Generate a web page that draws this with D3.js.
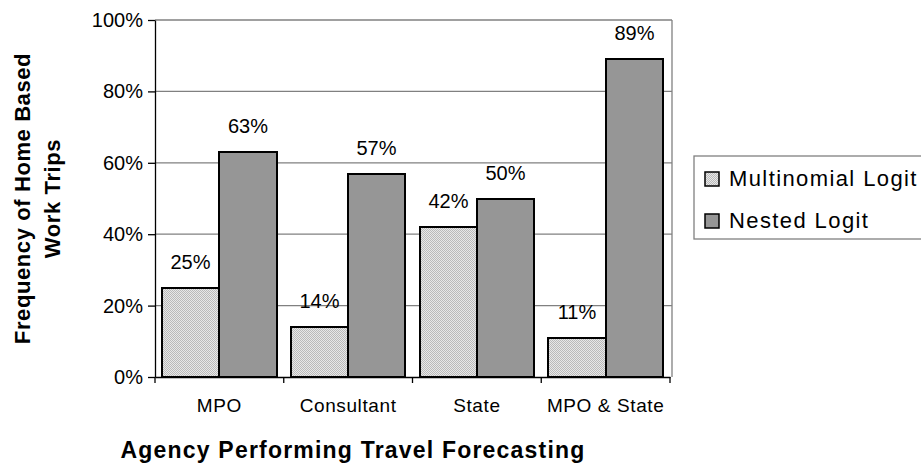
<!DOCTYPE html>
<html>
<head>
<meta charset="utf-8">
<script src="https://cdn.jsdelivr.net/npm/d3@7"></script>
<style>
  body { margin: 0; background: #fff; }
  text { font-family: Arial, "Liberation Sans", sans-serif; }
</style>
</head>
<body>
<div id="chart"></div>
<script>
// data
const agencies = ["MPO", "Consultant", "State", "MPO & State"];
const multinomial = [0.25, 0.14, 0.42, 0.11];
const nested = [0.63, 0.57, 0.50, 0.89];
const seriesNames = ["Multinomial Logit", "Nested Logit"];
const yTicks = [0, 0.2, 0.4, 0.6, 0.8, 1.0];

var svg = d3.select("#chart").append("svg")
    .attr("width", 921)
    .attr("height", 465);

// checker fill for the multinomial bars
var defs = svg.append("defs");
var pat = defs.append("pattern")
    .attr("id", "checker")
    .attr("x", 0).attr("y", 0)
    .attr("width", 2).attr("height", 2)
    .attr("patternUnits", "userSpaceOnUse");
pat.append("rect").attr("width", 2).attr("height", 2).attr("fill", "#e8e8e8").attr("shape-rendering", "crispEdges");
pat.append("rect").attr("width", 1).attr("height", 1).attr("fill", "#bababa").attr("shape-rendering", "crispEdges");
pat.append("rect").attr("x", 1).attr("y", 1).attr("width", 1).attr("height", 1).attr("fill", "#bababa").attr("shape-rendering", "crispEdges");

var plotLeft = 155, plotRight = 670, plotTop = 20, plotBottom = 377;

var x = d3.scaleBand().domain(agencies).range([plotLeft, plotRight]);
var inner = d3.scaleBand().domain(seriesNames).range([0, x.bandwidth()]).paddingOuter(0.125);
var y = d3.scaleLinear().domain([0, 1]).range([plotBottom, plotTop]);

//gridlines
svg.append("g")
    .selectAll("line")
    .data(yTicks.slice(1))
    .enter()
    .append("line")
        .attr("x1", plotLeft).attr("x2", plotRight + 2)
        .attr("y1", d => y(d)).attr("y2", d => y(d))
        .attr("stroke", "#808080")
        .attr("stroke-width", 1.3);

// right border of plot area
svg.append("line")
    .attr("x1", plotRight + 2).attr("x2", plotRight + 2)
    .attr("y1", plotTop).attr("y2", plotBottom)
    .attr("stroke", "#808080")
    .attr("stroke-width", 1.3);

// bars (positions rounded so the checker pattern lines up with pixels)
var bars = [];
agencies.forEach(function(a, i) {
    [multinomial[i], nested[i]].forEach(function(v, j) {
        var bx = Math.round(x(a) + inner(seriesNames[j]));
        var bw = Math.round(x(a) + inner(seriesNames[j]) + inner.bandwidth()) - bx;
        bars.push({ agency: a, name: seriesNames[j], v: v, j: j, bx: bx, bw: bw });
    });
});

svg.append("g")
    .selectAll("rect")
    .data(bars)
    .enter()
    .append("rect")
        .attr("x", d => d.bx)
        .attr("y", d => Math.round(y(d.v)))
        .attr("width", d => d.bw)
        .attr("height", d => plotBottom - Math.round(y(d.v)))
        .attr("fill", d => d.j == 0 ? "url(#checker)" : "#969696")
        .attr("stroke", "#000")
        .attr("stroke-width", 2);

svg.append("g")
    .selectAll("text")
    .data(bars)
    .enter()
    .append("text")
        .attr("x", d => d.bx + d.bw / 2)
        .attr("y", d => y(d.v) - 19)
        .attr("text-anchor", "middle")
        .style("font-size", "20px")
        .text(d => Math.round(d.v * 100) + "%");

// y axis
var yAxis = svg.append("g")
    .attr("transform", "translate(" + plotLeft + ",0)")
    .call(d3.axisLeft(y).tickValues(yTicks).tickFormat(d3.format(".0%")).tickSizeInner(7).tickSizeOuter(0).tickPadding(5));
yAxis.selectAll("text").style("font-size", "20px").attr("fill", "#000");
yAxis.selectAll("line, path").attr("stroke", "#000").attr("stroke-width", 1.3);

// x axis
var xAxis = svg.append("g")
    .attr("transform", "translate(0," + plotBottom + ")")
    .call(d3.axisBottom(x).tickSize(0).tickPadding(22));
xAxis.selectAll("text").style("font-size", "19px").style("letter-spacing", "0.6px").attr("fill", "#000");
xAxis.select("path").attr("stroke", "#000").attr("stroke-width", 1.3);

// band boundary ticks on the x axis
svg.append("g")
    .selectAll("line")
    .data(agencies.concat(["end"]))
    .enter()
    .append("line")
        .attr("x1", (d, i) => i < agencies.length ? x(d) : plotRight)
        .attr("x2", (d, i) => i < agencies.length ? x(d) : plotRight)
        .attr("y1", plotBottom).attr("y2", plotBottom + 6)
        .attr("stroke", "#000")
        .attr("stroke-width", 1.3);

// axis titles
svg.append("text")
    .attr("x", 353).attr("y", 458)
    .attr("text-anchor", "middle")
    .style("font-size", "23px")
    .style("letter-spacing", "1.2px")
    .style("font-weight", "bold")
    .text("Agency Performing Travel Forecasting");

var yTitle = svg.append("text")
    .attr("transform", "translate(0," + ((plotTop + plotBottom) / 2) + ") rotate(-90)")
    .attr("text-anchor", "middle")
    .style("font-size", "22px")
    .style("letter-spacing", "0.6px")
    .style("font-weight", "bold");
yTitle.append("tspan").attr("x", 0).attr("y", 30).text("Frequency of Home Based");
yTitle.append("tspan").attr("x", 0).attr("y", 60).text("Work Trips");

// legend
var legend = svg.append("g");
legend.append("rect")
    .attr("x", 694).attr("y", 156)
    .attr("width", 240).attr("height", 83)
    .attr("fill", "#fff")
    .attr("stroke", "#808080")
    .attr("stroke-width", 1.3);

var items = legend.selectAll("g.item")
    .data(seriesNames)
    .enter()
    .append("g")
    .attr("class", "item")
    .attr("transform", (d, i) => "translate(705," + (172 + i * 42) + ")");
items.append("rect")
    .attr("width", 14).attr("height", 14)
    .attr("fill", (d, i) => i == 0 ? "url(#checker)" : "#969696")
    .attr("stroke", "#000")
    .attr("stroke-width", 1.5);
items.append("text")
    .attr("x", 24).attr("y", 14)
    .style("font-size", "22px")
    .style("letter-spacing", "1.4px")
    .text(d => d);
</script>
</body>
</html>
